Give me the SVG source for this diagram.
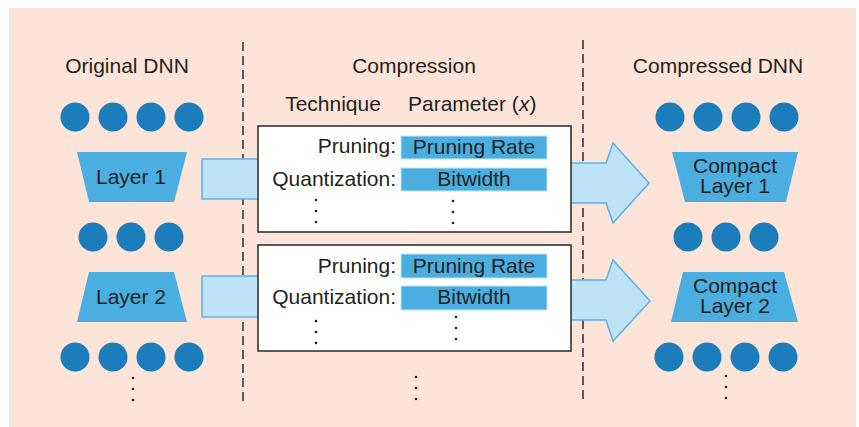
<svg xmlns="http://www.w3.org/2000/svg" width="859" height="427" viewBox="0 0 859 427">
<style>
text{font-family:"Liberation Sans",Arial,sans-serif;font-size:21px;fill:#231f20}
.c{text-anchor:middle}
.r{text-anchor:end}
.n{fill:#1b7dbb}
.tr{fill:#4aaee1}
.flow{fill:#bfe3f6;stroke:#5ab3e4;stroke-width:1.5}
.box{fill:#fff;stroke:#333;stroke-width:1.6}
.par{fill:#4aaee1;stroke:#bfe3f6;stroke-width:1}
.dash{stroke:#231f20;stroke-width:1.4;stroke-dasharray:9 5;fill:none}
.dot{fill:#231f20}
</style>
<defs>
<g id="dots"><circle cx="0" cy="0" r="1.3" class="dot"/><circle cx="0" cy="11" r="1.3" class="dot"/><circle cx="0" cy="22" r="1.3" class="dot"/></g>
<g id="row4"><circle cx="0" cy="0" r="14.5" class="n"/><circle cx="38" cy="0" r="14.5" class="n"/><circle cx="76" cy="0" r="14.5" class="n"/><circle cx="114" cy="0" r="14.5" class="n"/></g>
<g id="row3"><circle cx="0" cy="0" r="14.5" class="n"/><circle cx="38" cy="0" r="14.5" class="n"/><circle cx="76" cy="0" r="14.5" class="n"/></g>
</defs>
<rect x="9" y="8" width="847" height="419" fill="#fde4d8"/>

<g id="headers">
<text x="127" y="73" class="c">Original DNN</text>
<text x="414" y="73" class="c">Compression</text>
<text x="333" y="111" class="c">Technique</text>
<text x="408" y="111">Parameter (<tspan font-style="italic">x</tspan>)</text>
<text x="718" y="73" class="c">Compressed DNN</text>
</g>

<g id="dividers">
<line x1="243" y1="42" x2="243" y2="404" class="dash"/>
<line x1="583" y1="40" x2="583" y2="402" class="dash"/>
</g>

<g id="connectors">
<rect x="202" y="159" width="60" height="40" class="flow"/>
<rect x="202" y="276" width="60" height="41" class="flow"/>
<path d="M565,163 L606,163 L613,143 L649,183 L613,223 L606,203 L565,203 Z" class="flow"/>
<path d="M565,280 L606,280 L613,260 L650,301 L613,341 L606,320 L565,320 Z" class="flow"/>
</g>

<g id="original-dnn">
<use href="#row4" x="75" y="117"/>
<g id="layer1"><path d="M77,152 L187,152 L174,202 L89,202 Z" class="tr"/><text x="131" y="184" class="c">Layer 1</text></g>
<use href="#row3" x="93" y="237"/>
<g id="layer2"><path d="M89,272 L174,272 L187,322 L77,322 Z" class="tr"/><text x="131" y="304" class="c">Layer 2</text></g>
<use href="#row4" x="75" y="357"/>
<use href="#dots" x="133" y="378"/>
</g>

<g id="compression1">
<rect x="258" y="126" width="313" height="106" class="box"/>
<text x="396" y="153" class="r">Pruning:</text>
<rect x="401" y="136" width="146" height="23" class="par"/>
<text x="474" y="154" class="c">Pruning Rate</text>
<text x="396" y="186" class="r">Quantization:</text>
<rect x="401" y="168" width="146" height="23" class="par"/>
<text x="474" y="186" class="c">Bitwidth</text>
<use href="#dots" x="316" y="200"/>
<use href="#dots" x="453" y="201"/>
</g>

<g id="compression2">
<rect x="258" y="245" width="313" height="106" class="box"/>
<text x="396" y="273" class="r">Pruning:</text>
<rect x="401" y="254" width="146" height="24" class="par"/>
<text x="474" y="273" class="c">Pruning Rate</text>
<text x="396" y="304" class="r">Quantization:</text>
<rect x="401" y="286" width="146" height="24" class="par"/>
<text x="474" y="304" class="c">Bitwidth</text>
<use href="#dots" x="316" y="321"/>
<use href="#dots" x="456" y="317"/>
</g>
<use href="#dots" x="416" y="377"/>

<g id="compressed-dnn">
<use href="#row4" x="670" y="117"/>
<g id="compact1"><path d="M672,152 L798,152 L786,202 L685,202 Z" class="tr"/><text x="735" y="173" class="c">Compact</text><text x="735" y="193" class="c">Layer 1</text></g>
<use href="#row3" x="688" y="237"/>
<g id="compact2"><path d="M683,272 L784,272 L798,322 L671,322 Z" class="tr"/><text x="735" y="293" class="c">Compact</text><text x="735" y="313" class="c">Layer 2</text></g>
<use href="#row4" x="669" y="357"/>
<use href="#dots" x="726" y="376"/>
</g>
</svg>
